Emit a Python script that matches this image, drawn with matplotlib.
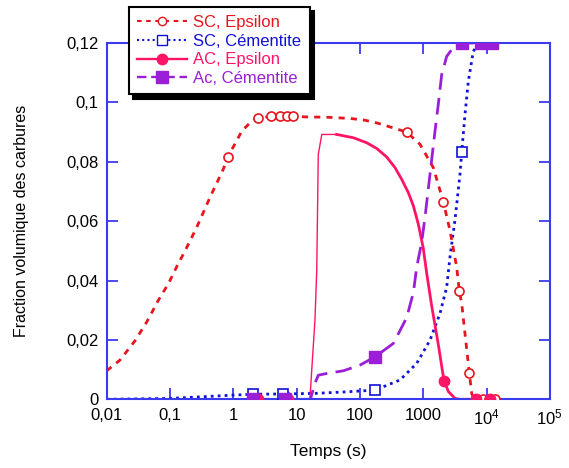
import matplotlib
matplotlib.use("Agg")
import matplotlib.pyplot as plt
from matplotlib.lines import Line2D
from matplotlib.ticker import FixedLocator, FixedFormatter, NullLocator

plt.rcParams["font.family"] = ["Liberation Sans", "DejaVu Sans"]
plt.rcParams["mathtext.fontset"] = "custom"
plt.rcParams["mathtext.rm"] = "Liberation Sans"
plt.rcParams["mathtext.it"] = "Liberation Sans"

# SC, Epsilon
sc_eps_t = [0.01, 0.0162, 0.028, 0.0428, 0.0653, 0.094, 0.106, 0.13, 0.173, 0.264,
            0.428, 0.695, 0.82, 1.36, 1.95, 2.43, 3.89, 8.87, 14.4, 30, 69.7, 120,
            184, 337, 548, 889, 1445, 2080, 2650, 3380, 3718, 4060, 4570, 5350,
            5830, 6300, 13600]
sc_eps_f = [0.0096, 0.0132, 0.0197, 0.026, 0.0333, 0.0389, 0.0411, 0.045, 0.050, 0.0579,
            0.068, 0.0775, 0.0816, 0.0903, 0.0937, 0.0946, 0.0953, 0.0953, 0.0951, 0.0950,
            0.0946, 0.0940, 0.0931, 0.0914, 0.090, 0.0859, 0.078, 0.0665, 0.0568, 0.0445,
            0.0364, 0.0322, 0.0221, 0.0089, 0.002, 0.0, 0.0]
sc_eps_mt = [0.82, 2.43, 3.89, 5.47, 6.97, 8.87, 548, 2080, 3718, 5350, 6990, 8870, 11070, 13600]
sc_eps_mf = [0.0816, 0.0946, 0.0953, 0.0953, 0.0953, 0.0953, 0.090, 0.0665, 0.0364, 0.0089,
             0.0, 0.0, 0.0, 0.0]

# SC, Cementite
sc_cem_t = [0.01, 0.1, 1.0, 2.07, 6.1, 20, 60, 173, 430, 789, 1280, 1840, 2350, 2650,
            3180, 3810, 4060, 4570, 5160, 6180, 6960, 8000, 13600]
sc_cem_f = [0.0, 0.0003, 0.0014, 0.0017, 0.0018, 0.002, 0.0025, 0.0031, 0.0065, 0.0121,
            0.0199, 0.0289, 0.0378, 0.048, 0.0605, 0.0758, 0.0834, 0.0959, 0.1071, 0.1172,
            0.1189, 0.12, 0.12]
sc_cem_mt = [2.07, 6.1, 173, 4060, 8090, 12080]
sc_cem_mf = [0.0017, 0.0017, 0.0031, 0.0834, 0.12, 0.12]

# AC, Epsilon (thin rise, then thicker decay)
ac_eps_rise_t = [2.48, 7.5, 16.2, 19.5, 20.8, 22, 25, 43]
ac_eps_rise_f = [0.0, 0.0, 0.0, 0.0267, 0.0434, 0.0825, 0.0892, 0.0892]
ac_eps_t = [43, 78.7, 128, 184, 265, 359, 457, 582, 698, 837, 1000, 1134, 1360,
            1730, 2130, 2500, 3180, 3810, 6820, 11350]
ac_eps_f = [0.0892, 0.0881, 0.0864, 0.0845, 0.0816, 0.078, 0.0741, 0.0696, 0.0652,
            0.059, 0.051, 0.0425, 0.0315, 0.0185, 0.0062, 0.0026, 0.0003, 0.0, 0.0, 0.0]
ac_eps_mt = [2.48, 7.4, 2130, 6820, 11350]
ac_eps_mf = [0.0, 0.0, 0.0062, 0.0, 0.0]

# Ac, Cementite
ac_cem_t = [2.07, 6.56, 16.5, 19.5, 22, 29.9, 54.7, 100, 173, 337, 548, 700, 789, 946,
            1067, 1280, 1535, 1730, 1960, 2350, 2990, 4150, 8090, 12080]
ac_cem_f = [0.0, 0.0, 0.0, 0.0054, 0.0081, 0.0087, 0.0096, 0.0115, 0.0143, 0.0188,
            0.0275, 0.036, 0.0445, 0.0529, 0.0613, 0.0758, 0.0903, 0.0993, 0.1094,
            0.1155, 0.1185, 0.12, 0.12, 0.12]
ac_cem_mt = [2.07, 6.56, 173, 4150, 8090, 12080]
ac_cem_mf = [0.0, 0.0, 0.0143, 0.12, 0.12, 0.12]

x_ticks = [0.01, 0.1, 1, 10, 100, 1000, 1e4, 1e5]
x_labels = ["0,01", "0,1", "1", "10", "100", "1000", "$10^4$", "$10^5$"]
y_ticks = [0, 0.02, 0.04, 0.06, 0.08, 0.1, 0.12]
y_labels = ["0", "0,02", "0,04", "0,06", "0,08", "0,1", "0,12"]

c_sc_eps = "#e8141e"
c_sc_cem = "#1010d8"
c_ac_eps = "#ff1466"
c_ac_cem = "#9b1fd6"
c_axis = "#3a3af0"

fig = plt.figure(figsize=(5.69, 4.68), dpi=100)
ax = fig.add_axes([0.1875, 0.1468, 0.7788, 0.7613])

ax.plot(sc_cem_t, sc_cem_f, color=c_sc_cem, lw=2, linestyle=(0, (1, 1.5)), zorder=2)
ax.plot(sc_cem_mt, sc_cem_mf, linestyle="none", marker="s", ms=7, mfc="white",
        mec=c_sc_cem, mew=1.2, zorder=3)

ax.plot(sc_eps_t, sc_eps_f, color=c_sc_eps, lw=2, linestyle=(0, (2.2, 2.2)), zorder=2)
ax.plot(sc_eps_mt, sc_eps_mf, linestyle="none", marker="o", ms=6.5, mfc="white",
        mec=c_sc_eps, mew=1.2, zorder=3)

ax.plot(ac_eps_rise_t, ac_eps_rise_f, color=c_ac_eps, lw=1.0, zorder=2)
ax.plot(ac_eps_t, ac_eps_f, color=c_ac_eps, lw=2.0, zorder=2)
ax.plot(ac_eps_mt, ac_eps_mf, linestyle="none", marker="o", ms=7.5, color=c_ac_eps, zorder=4)

ax.plot(ac_cem_t, ac_cem_f, color=c_ac_cem, lw=2, linestyle=(0, (6, 3)), zorder=2)
ax.plot(ac_cem_mt, ac_cem_mf, linestyle="none", marker="s", ms=8.5, color=c_ac_cem, zorder=5)

ax.set_xscale("log")
ax.set_xlim(0.01, 1e5)
ax.set_ylim(0, 0.12)
ax.xaxis.set_major_locator(FixedLocator(x_ticks))
ax.xaxis.set_major_formatter(FixedFormatter(x_labels))
ax.xaxis.set_minor_locator(NullLocator())
ax.yaxis.set_major_locator(FixedLocator(y_ticks))
ax.yaxis.set_major_formatter(FixedFormatter(y_labels))

for s in ax.spines.values():
    s.set_color(c_axis)
    s.set_linewidth(1.5)
ax.tick_params(direction="in", top=True, right=True, length=8, width=1.3,
               color=c_axis, labelsize=12, labelcolor="black", pad=6)
ax.set_xlabel("Temps (s)", fontsize=12.5)
ax.set_ylabel("Fraction volumique des carbures", fontsize=11.5)
ax.xaxis.set_label_coords(0.5, -0.125)
ax.yaxis.set_label_coords(-0.175, 0.5)

handles = [
    Line2D([], [], color=c_sc_eps, lw=1.5, linestyle=(0, (2.2, 2.2)), marker="o",
           ms=6, mfc="white", mec=c_sc_eps),
    Line2D([], [], color=c_sc_cem, lw=1.5, linestyle=(0, (1, 1.5)), marker="s",
           ms=6.5, mfc="white", mec=c_sc_cem),
    Line2D([], [], color=c_ac_eps, lw=1.7, marker="o", ms=7.5),
    Line2D([], [], color=c_ac_cem, lw=1.7, linestyle=(0, (4, 2)), marker="s", ms=8),
]
labels = ["SC, Epsilon", "SC, Cémentite", "AC, Epsilon", "Ac, Cémentite"]
leg = fig.legend(handles, labels, loc="upper left",
                 bbox_to_anchor=(129 / 569, 1 - 6.7 / 468), fontsize=12,
                 frameon=True, fancybox=False, edgecolor="black", framealpha=1,
                 shadow={"color": "black", "alpha": 1, "ox": 3, "oy": -3},
                 borderaxespad=0, borderpad=0.5, labelspacing=0.22,
                 handlelength=3.0, handletextpad=0.35)
leg.get_frame().set_linewidth(1.5)
for txt, col in zip(leg.get_texts(), [c_sc_eps, c_sc_cem, c_ac_eps, c_ac_cem]):
    txt.set_color(col)

fig.savefig("out.png", dpi=100)
